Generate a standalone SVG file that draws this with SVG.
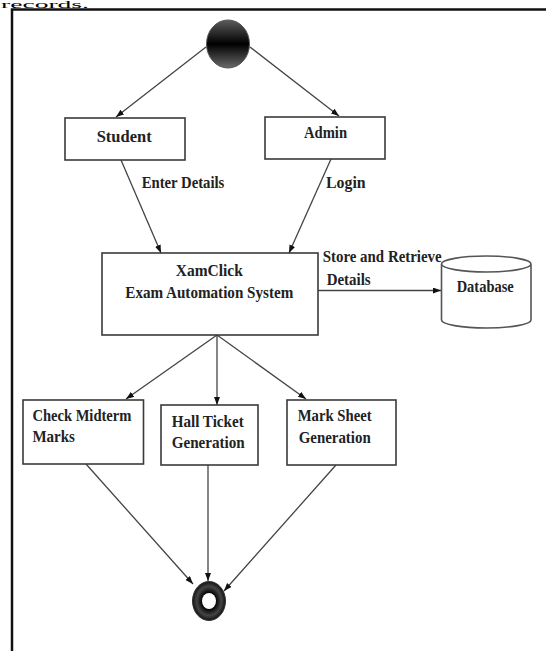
<svg xmlns="http://www.w3.org/2000/svg" width="546" height="651" viewBox="0 0 546 651">
<defs>
<style>
.box{fill:#fff;stroke:#3a3a3a;stroke-width:1.6}
.t{font-family:"Liberation Serif","Times New Roman",serif;font-weight:bold;font-size:16px;fill:#222}
.c{fill:none;stroke:#444;stroke-width:1.3;marker-end:url(#ah)}
</style>
<marker id="ah" markerUnits="userSpaceOnUse" markerWidth="9" markerHeight="7" refX="8" refY="3" orient="auto">
<path d="M0,0 L8,3 L0,6 z" fill="#111"/>
</marker>
<linearGradient id="gStart" x1="0" y1="0" x2="0" y2="1">
<stop offset="0" stop-color="#5c5c5c"/>
<stop offset="0.5" stop-color="#000"/>
<stop offset="1" stop-color="#6a6a6a"/>
</linearGradient>
<radialGradient id="gEnd" cx="0.5" cy="0.5" r="0.5">
<stop offset="0.4" stop-color="#000"/>
<stop offset="0.75" stop-color="#444"/>
<stop offset="1" stop-color="#111"/>
</radialGradient>
</defs>
<rect width="546" height="651" fill="#fff"/>
<text x="1" y="7.5" font-family="Liberation Serif, serif" font-size="10" fill="#000" textLength="88" lengthAdjust="spacingAndGlyphs">records.</text>
<path d="M12,651 V9.5 H546" fill="none" stroke="#111" stroke-width="2.5"/>

<g id="connectors">
<line class="c" x1="206" y1="47" x2="116" y2="117"/>
<line class="c" x1="250" y1="47" x2="339" y2="116"/>
<line class="c" x1="121" y1="160" x2="161" y2="253"/>
<line class="c" x1="331" y1="159" x2="289" y2="253"/>
<line class="c" x1="318" y1="290.5" x2="441" y2="290.5"/>
<line class="c" x1="217" y1="335" x2="126" y2="399"/>
<line class="c" x1="217" y1="335" x2="217" y2="405"/>
<line class="c" x1="217" y1="335" x2="306" y2="399"/>
<line class="c" x1="86" y1="464" x2="193" y2="584"/>
<line class="c" x1="208" y1="465" x2="208" y2="581"/>
<line class="c" x1="336" y1="465" x2="224" y2="591"/>
<text class="t" x="141.7" y="187.7" textLength="82.6" lengthAdjust="spacingAndGlyphs">Enter Details</text>
<text class="t" x="326" y="187.7" textLength="39.6" lengthAdjust="spacingAndGlyphs">Login</text>
<text class="t" x="322.7" y="262" textLength="119" lengthAdjust="spacingAndGlyphs">Store and Retrieve</text>
<text class="t" x="326.7" y="285" textLength="44" lengthAdjust="spacingAndGlyphs">Details</text>
</g>

<g id="start">
<ellipse cx="228" cy="44" rx="21.5" ry="24" fill="url(#gStart)" stroke="#555" stroke-width="1"/>
</g>

<g id="student">
<rect class="box" x="65" y="118" width="120" height="42"/>
<text class="t" x="96.7" y="141.7" font-size="17.5" textLength="55" lengthAdjust="spacingAndGlyphs">Student</text>
</g>

<g id="admin">
<rect class="box" x="265" y="117" width="120" height="42"/>
<text class="t" x="304" y="137.7" textLength="43" lengthAdjust="spacingAndGlyphs">Admin</text>
</g>

<g id="xamclick">
<rect class="box" x="102" y="253" width="216" height="82"/>
<text class="t" x="175.8" y="275.7" font-size="16.5" textLength="67" lengthAdjust="spacingAndGlyphs">XamClick</text>
<text class="t" x="125.3" y="298.3" font-size="16.5" textLength="168" lengthAdjust="spacingAndGlyphs">Exam Automation System</text>
</g>

<g id="database">
<path d="M441.5,264 V320 A44.75,8 0 0 0 531,320 V264 A44.75,8 0 0 0 441.5,264 A44.75,8 0 0 0 531,264" fill="#fff" stroke="#555" stroke-width="1.6"/>
<text class="t" x="456.7" y="291.7" textLength="57" lengthAdjust="spacingAndGlyphs">Database</text>
</g>

<g id="check">
<rect class="box" x="23" y="400" width="120.5" height="64"/>
<text class="t" x="32.4" y="420.7" textLength="99" lengthAdjust="spacingAndGlyphs">Check Midterm</text>
<text class="t" x="32.4" y="442.3" textLength="42.5" lengthAdjust="spacingAndGlyphs">Marks</text>
</g>

<g id="hall">
<rect class="box" x="161" y="405" width="97" height="60"/>
<text class="t" x="171.7" y="426.7" textLength="72" lengthAdjust="spacingAndGlyphs">Hall Ticket</text>
<text class="t" x="171.7" y="448.3" textLength="73" lengthAdjust="spacingAndGlyphs">Generation</text>
</g>

<g id="marksheet">
<rect class="box" x="287" y="400" width="109" height="65"/>
<text class="t" x="297.7" y="420.7" textLength="74" lengthAdjust="spacingAndGlyphs">Mark Sheet</text>
<text class="t" x="298.7" y="442.7" textLength="72" lengthAdjust="spacingAndGlyphs">Generation</text>
</g>

<g id="end">
<ellipse cx="209" cy="601" rx="16.5" ry="19.5" fill="url(#gEnd)" stroke="#333" stroke-width="1"/>
<ellipse cx="209" cy="601" rx="7" ry="8" fill="#fff"/>
</g>
</svg>
